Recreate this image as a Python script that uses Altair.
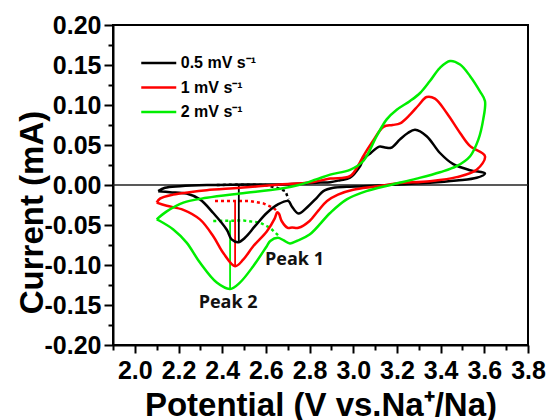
import altair as alt
import pandas as pd

FONT = "Liberation Sans"

series_names = ["0.5 mV s⁻¹", "1 mV s⁻¹", "2 mV s⁻¹"]
series_colors = ["#000000", "#ff0000", "#00ee00"]

# 0.5 mV/s loop (anodic from 2.1 V, then cathodic back)
black_x = [2.107, 2.138, 2.207, 2.33, 2.5, 2.7, 2.85, 2.894, 2.94, 2.985, 3.03, 3.046, 3.08, 3.119, 3.145, 3.173,
           3.214, 3.25, 3.283, 3.336, 3.397, 3.458, 3.535, 3.603,
           3.565, 3.473, 3.351, 3.199, 3.045, 2.97, 2.909, 2.863, 2.833, 2.794, 2.749, 2.718, 2.703, 2.657,
           2.604, 2.55, 2.504, 2.474, 2.443, 2.421, 2.359, 2.298, 2.237, 2.161, 2.107]
black_y = [-0.0077, -0.0035, -0.0015, 0.0, 0.0005, 0.001, 0.003, 0.0035, 0.006, 0.009, 0.023, 0.032, 0.040, 0.048, 0.047, 0.0465,
           0.057, 0.065, 0.069, 0.061, 0.040, 0.026, 0.0185, 0.0144,
           0.009, 0.0056, 0.0027, 0.0006, -0.0015, -0.0023, -0.0035, -0.0077, -0.016, -0.0265, -0.0356, -0.0265, -0.020, -0.024,
           -0.035, -0.0515, -0.066, -0.0715, -0.068, -0.056, -0.035, -0.018, -0.0106, -0.009, -0.0077]

# 1 mV/s loop
red_x = [2.10, 2.115, 2.176, 2.25, 2.329, 2.481, 2.665, 2.8, 2.894, 2.985, 3.03, 3.046, 3.09, 3.138, 3.18, 3.214,
         3.26, 3.30, 3.336, 3.374, 3.428, 3.489, 3.535, 3.603,
         3.565, 3.473, 3.351, 3.2, 3.1, 3.0, 2.93, 2.88, 2.84, 2.80, 2.749, 2.72, 2.70, 2.672, 2.66, 2.652, 2.64,
         2.604, 2.542, 2.497, 2.459, 2.405, 2.359, 2.298, 2.222, 2.146, 2.10]
red_y = [-0.022, -0.017, -0.012, -0.009, -0.0065, -0.0035, 0.0006, 0.003, 0.008, 0.011, 0.028, 0.036, 0.055, 0.0727, 0.075, 0.077,
         0.088, 0.100, 0.110, 0.108, 0.090, 0.065, 0.0485, 0.036,
         0.019, 0.0098, 0.0048, 0.002, -0.002, -0.006, -0.012, -0.020, -0.032, -0.045, -0.0535, -0.053, -0.0535, -0.045, -0.036, -0.034, -0.042,
         -0.058, -0.0765, -0.093, -0.1015, -0.085, -0.064, -0.043, -0.031, -0.026, -0.022]

# 2 mV/s loop
green_x = [2.10, 2.146, 2.222, 2.329, 2.481, 2.665, 2.75, 2.83, 2.894, 2.985, 3.046, 3.107, 3.153, 3.199, 3.26, 3.306,
           3.351, 3.397, 3.443, 3.489, 3.535, 3.58, 3.603,
           3.595, 3.573, 3.535, 3.473, 3.397, 3.29, 3.17, 3.06, 2.97, 2.894, 2.80, 2.741, 2.71, 2.68, 2.655, 2.62,
           2.604, 2.542, 2.481, 2.436, 2.375, 2.298, 2.237, 2.176, 2.115, 2.10]
green_y = [-0.043, -0.033, -0.022, -0.016, -0.0106, -0.0048, 0.0, 0.007, 0.013, 0.019, 0.030, 0.061, 0.082, 0.094, 0.105, 0.115,
           0.130, 0.1465, 0.155, 0.1506, 0.136, 0.117, 0.105,
           0.082, 0.057, 0.036, 0.0235, 0.016, 0.008, 0.0, -0.0077, -0.018, -0.035, -0.062, -0.070, -0.073, -0.069, -0.066, -0.070,
           -0.0765, -0.1015, -0.122, -0.130, -0.122, -0.097, -0.072, -0.0556, -0.045, -0.043]

# dotted baselines
black_dot_x = [2.375, 2.474, 2.597, 2.65, 2.69, 2.703]
black_dot_y = [0.0, 0.0005, 0.0, -0.0035, -0.0077, -0.018]
red_dot_x = [2.367, 2.527, 2.588, 2.634, 2.652]
red_dot_y = [-0.020, -0.020, -0.023, -0.0285, -0.033]
green_dot_x = [2.359, 2.497, 2.573, 2.619, 2.657]
green_dot_y = [-0.045, -0.0444, -0.047, -0.0535, -0.063]

# vertical peak-height markers
peak_x = [2.476, 2.459, 2.436]
peak_top = [0.0, -0.020, -0.0445]
peak_bottom = [-0.0715, -0.1015, -0.130]

label_text = ["Peak 1", "Peak 2"]
label_x = [2.731, 2.427]
label_y = [-0.094, -0.147]

x_major = [2.0, 2.2, 2.4, 2.6, 2.8, 3.0, 3.2, 3.4, 3.6, 3.8]
x_minor = [1.9, 2.1, 2.3, 2.5, 2.7, 2.9, 3.1, 3.3, 3.5, 3.7]
y_major = [-0.20, -0.15, -0.10, -0.05, 0.0, 0.05, 0.10, 0.15, 0.20]
y_minor = [-0.175, -0.125, -0.075, -0.025, 0.025, 0.075, 0.125, 0.175]

rows = []
for name, xs, ys in zip(series_names, [black_x, red_x, green_x], [black_y, red_y, green_y]):
    for i, (a, b) in enumerate(zip(xs, ys)):
        rows.append({"series": name, "i": i, "x": a, "y": b})
curves = pd.DataFrame(rows)

rows = []
for name, xs, ys in zip(series_names, [black_dot_x, red_dot_x, green_dot_x], [black_dot_y, red_dot_y, green_dot_y]):
    for i, (a, b) in enumerate(zip(xs, ys)):
        rows.append({"series": name, "i": i, "x": a, "y": b})
dots = pd.DataFrame(rows)

verts = pd.DataFrame({"series": series_names, "x": peak_x, "y": peak_top, "y2": peak_bottom})
labels = pd.DataFrame({"text": label_text, "x": label_x, "y": label_y})

XS = alt.Scale(domain=[1.9, 3.8], nice=False, zero=False)
YS = alt.Scale(domain=[-0.2, 0.2], nice=False, zero=False)
CS = alt.Scale(domain=series_names, range=series_colors)

LEG = alt.Legend(orient="none", legendX=35.75, legendY=28, title=None, symbolType="M-2,0L2,0",
                 symbolSize=306.25, symbolStrokeWidth=2.5, labelFont=FONT, labelFontSize=16,
                 labelFontWeight="bold", labelColor="black", labelOffset=12, rowPadding=6.5, padding=0)

x_axis = alt.Axis(orient="bottom", values=x_major, format=".1f", labelFont=FONT, labelFontSize=25,
                  labelFontWeight="bold", labelColor="black", labelPadding=5, tickSize=8, tickWidth=2,
                  tickColor="black", domainColor="black", domainWidth=2, grid=False, labelFlush=False,
                  labelOverlap=False, title="Potential (V vs.Na⁺/Na)", titleFont=FONT, titleFontSize=33,
                  titleFontWeight="bold", titleColor="black", titleY=70, titleBaseline="alphabetic")
y_axis = alt.Axis(orient="left", values=y_major,
                  labelExpr="replace(format(datum.value, '.2f'), '\u2212', '-')",
                  labelFont=FONT, labelFontSize=25, labelFontWeight="bold", labelColor="black",
                  labelPadding=3, tickSize=9, tickWidth=2, tickColor="black", domainColor="black",
                  domainWidth=2, grid=False, labelFlush=False, labelOverlap=False,
                  title="Current (mA)", titleFont=FONT, titleFontSize=33, titleFontWeight="bold",
                  titleColor="black", titleX=-71, titleY=187, titleBaseline="alphabetic", titleAngle=270)

zero = alt.Chart(pd.DataFrame({"v": [0]})).mark_rule(color="#222222", strokeWidth=1.5).encode(
    y=alt.Y("v:Q", scale=YS, axis=None))

dotted = alt.Chart(dots).mark_line(strokeDash=[3, 3], strokeWidth=2.5).encode(
    x=alt.X("x:Q", scale=XS, axis=None), y=alt.Y("y:Q", scale=YS, axis=None),
    color=alt.Color("series:N", scale=CS, legend=LEG), order="i:Q", detail="series:N")

vertical = alt.Chart(verts).mark_rule(strokeWidth=1.8).encode(
    x=alt.X("x:Q", scale=XS, axis=None), y=alt.Y("y:Q", scale=YS, axis=None), y2="y2:Q",
    color=alt.Color("series:N", scale=CS, legend=LEG))

lines = alt.Chart(curves).mark_line(strokeWidth=2.5, interpolate="catmull-rom").encode(
    x=alt.X("x:Q", scale=XS, axis=x_axis),
    y=alt.Y("y:Q", scale=YS, axis=y_axis),
    color=alt.Color("series:N", scale=CS, legend=LEG),
    order="i:Q")

text = alt.Chart(labels).mark_text(font="Open Sans", fontSize=18, fontWeight="bold", color="#111111",
                                   align="center", baseline="middle").encode(
    x=alt.X("x:Q", scale=XS, axis=None), y=alt.Y("y:Q", scale=YS, axis=None), text="text:N")

minor = alt.Chart(curves).mark_point(opacity=0).encode(
    x=alt.X("x:Q", scale=XS, axis=alt.Axis(orient="bottom", values=x_minor, labels=False, domain=False,
                                            grid=False, tickSize=5, tickWidth=2, tickColor="black", title="")),
    y=alt.Y("y:Q", scale=YS, axis=alt.Axis(orient="left", values=y_minor, labels=False, domain=False,
                                            grid=False, tickSize=5, tickWidth=2, tickColor="black", title="")))

chart = alt.layer(zero, dotted, vertical, lines, text, minor).resolve_axis(
    x="independent", y="independent").properties(
    width=415, height=320, autosize=alt.AutoSizeParams(type="none"),
    padding={"left": 113, "top": 25, "right": 19, "bottom": 75}, background="white"
).configure_view(stroke="black", strokeWidth=2)

chart.save("out.html", embed_options={"renderer": "svg", "actions": False})
